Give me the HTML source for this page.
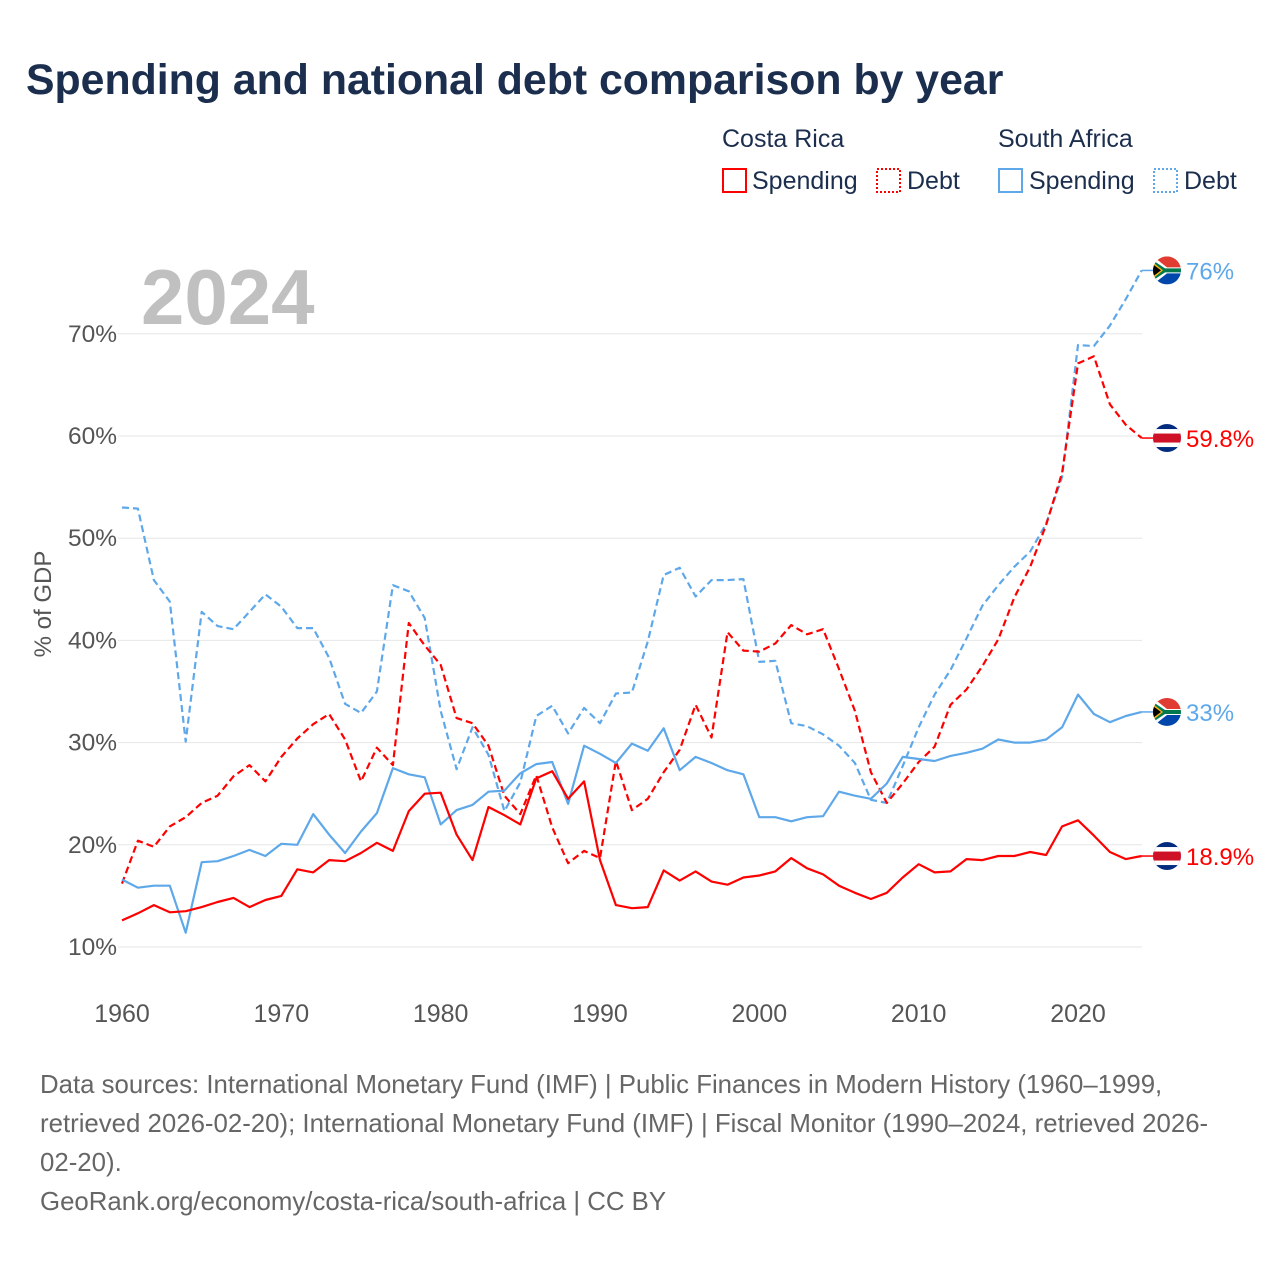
<!DOCTYPE html>
<html><head><meta charset="utf-8">
<style>
body{margin:0;background:#fff;font-family:"Liberation Sans",sans-serif;}
#wrap{position:relative;width:1280px;height:1280px;overflow:hidden;}
</style></head>
<body>
<div id="wrap">
<svg id="chart" width="1280" height="1280">
<defs>
<clipPath id="c1"><circle cx="0" cy="0" r="14"/></clipPath>
</defs>
<text x="26" y="94" font-size="42.8" font-weight="bold" fill="#1b2e4e">Spending and national debt comparison by year</text>
<g font-size="25" fill="#1b2e4e">
<text x="722" y="147">Costa Rica</text>
<text x="998" y="147">South Africa</text>
<g><rect x="723" y="169" width="23" height="23" fill="none" stroke="#ff0000" stroke-width="2"/><text x="752" y="189">Spending</text></g>
<g><rect x="877" y="169" width="23" height="23" fill="none" stroke="#ff0000" stroke-width="2" stroke-dasharray="2,2"/><text x="907" y="189">Debt</text></g>
<g><rect x="999" y="169" width="23" height="23" fill="none" stroke="#5ea8ea" stroke-width="2"/><text x="1029" y="189">Spending</text></g>
<g><rect x="1154" y="169" width="23" height="23" fill="none" stroke="#5ea8ea" stroke-width="2" stroke-dasharray="2,2"/><text x="1184" y="189">Debt</text></g>
</g>
<text x="141" y="324" font-size="78" font-weight="bold" fill="#c0c0c0">2024</text>
<g id="grid"></g>
<g id="yt" font-size="24.5" fill="#555"></g>
<g id="xt" font-size="25" fill="#555"></g>
<text transform="translate(51,604) rotate(-90)" text-anchor="middle" font-size="24" fill="#555">% of GDP</text>
<g id="series"></g>
<g id="ends"></g>
<g font-size="25.8" fill="#666">
<text x="40" y="1093">Data sources: International Monetary Fund (IMF) | Public Finances in Modern History (1960–1999,</text>
<text x="40" y="1132">retrieved 2026-02-20); International Monetary Fund (IMF) | Fiscal Monitor (1990–2024, retrieved 2026-</text>
<text x="40" y="1171">02-20).</text>
<text x="40" y="1210">GeoRank.org/economy/costa-rica/south-africa | CC BY</text>
</g>
</svg>
</div>
<script>
const startYear = 1960;
const xTicks = [1960,1970,1980,1990,2000,2010,2020];
const yTicks = [10,20,30,40,50,60,70];
const crSpending = [12.6,13.3,14.1,13.4,13.5,13.9,14.4,14.8,13.9,14.6,15.0,17.6,17.3,18.5,18.4,19.2,20.2,19.4,23.3,25.0,25.1,21.0,18.5,23.7,22.9,22.0,26.5,27.2,24.5,26.2,18.5,14.1,13.8,13.9,17.5,16.5,17.4,16.4,16.1,16.8,17.0,17.4,18.7,17.7,17.1,16.0,15.3,14.7,15.3,16.8,18.1,17.3,17.4,18.6,18.5,18.9,18.9,19.3,19.0,21.8,22.4,20.9,19.3,18.6,18.9];
const crDebt = [16.2,20.4,19.8,21.8,22.7,24.1,24.8,26.7,27.8,26.2,28.6,30.4,31.8,32.8,30.3,26.2,29.5,27.8,41.7,39.5,37.6,32.4,31.9,29.7,24.8,23.0,26.8,21.7,18.2,19.4,18.7,28.2,23.4,24.5,27.1,29.3,33.7,30.5,40.8,39.0,38.9,39.7,41.5,40.6,41.1,37.2,33.1,27.1,24.1,26.0,28.1,29.6,33.7,35.2,37.5,40.1,44.2,47.2,51.3,56.4,67.1,67.8,63.1,61.1,59.8];
const saSpending = [16.6,15.8,16.0,16.0,11.4,18.3,18.4,18.9,19.5,18.9,20.1,20.0,23.0,21.0,19.2,21.3,23.1,27.5,26.9,26.6,22.0,23.4,23.9,25.2,25.3,27.0,27.9,28.1,24.0,29.7,28.9,28.0,29.9,29.2,31.4,27.3,28.6,28.0,27.3,26.9,22.7,22.7,22.3,22.7,22.8,25.2,24.8,24.5,26.0,28.6,28.4,28.2,28.7,29.0,29.4,30.3,30.0,30.0,30.3,31.5,34.7,32.8,32.0,32.6,33.0];
const saDebt = [53.0,52.9,45.9,43.8,30.1,42.8,41.4,41.1,42.8,44.5,43.3,41.2,41.2,38.3,33.8,32.9,35.0,45.4,44.8,42.2,33.1,27.4,31.5,28.8,23.3,26.1,32.6,33.6,30.9,33.4,31.9,34.8,34.9,39.9,46.4,47.1,44.3,45.9,45.9,46.0,37.9,38.0,31.9,31.6,30.8,29.7,28.0,24.4,24.1,27.7,31.5,34.7,37.1,40.2,43.4,45.4,47.2,48.7,51.4,56.0,68.9,68.8,70.8,73.4,76.2];
const endLabels = ["76%","59.8%","33%","18.9%"];

const NS="http://www.w3.org/2000/svg";
function X(year){return 122+(year-1960)*(956/60);}
function Y(v){return 947-(v-10)*10.22;}
function mk(tag,attrs,parent){const e=document.createElementNS(NS,tag);for(const k in attrs)e.setAttribute(k,attrs[k]);parent.appendChild(e);return e;}
const grid=document.getElementById('grid'),yt=document.getElementById('yt'),xt=document.getElementById('xt');
yTicks.forEach(t=>{
  const l=mk('line',{x1:118,x2:1142,y1:Y(t),y2:Y(t),stroke:'#e6e6e6','stroke-width':1},grid);
  
  
  const tx=mk('text',{x:117,y:Y(t)+8,'text-anchor':'end'},yt);tx.textContent=t+'%';
  
  
});
xTicks.forEach(t=>{
  const tx=mk('text',{x:X(t),y:1022,'text-anchor':'middle'},xt);tx.textContent=t;
  
  
});
const ser=document.getElementById('series');
function line(data,color,dash,name){
  const pts=data.map((v,i)=>X(startYear+i).toFixed(1)+','+Y(v).toFixed(1)).join(' ');
  const p=mk('polyline',{points:pts,fill:'none',stroke:color,'stroke-width':2.2,'stroke-linejoin':'round'},ser);
  if(dash)p.setAttribute('stroke-dasharray','7,4');
  
  
}
line(saDebt,'#5ea8ea',true,'sa-debt-line');
line(crDebt,'#ff0000',true,'cr-debt-line');
line(saSpending,'#5ea8ea',false,'sa-spending-line');
line(crSpending,'#ff0000',false,'cr-spending-line');

const ends=document.getElementById('ends');
const last=saDebt.length-1, lx=X(startYear+last);
function flag(kind,y,label,color,name){
  const g=mk('g',{transform:'translate(1167,'+y+')'},ends);
  
  
  mk('line',{x1:lx-1167,x2:-14,y1:0,y2:0,stroke:color,'stroke-width':1.5},g);
  const f=mk('g',{'clip-path':'url(#c1)'},g);
  if(kind==='za'){
    mk('rect',{x:-14,y:-14,width:28,height:14,fill:'#e03c31'},f);
    mk('rect',{x:-14,y:0,width:28,height:14,fill:'#0047ab'},f);
    mk('polygon',{points:'-14,-14 0,-3 14,-3 14,3 0,3 -14,14',fill:'#fff'},f);
    mk('polygon',{points:'-14,-10 -2,-2 14,-2 14,2 -2,2 -14,10',fill:'#007a4d'},f);
    mk('polygon',{points:'-14,-8 -4,0 -14,8',fill:'#ffb612'},f);
    mk('polygon',{points:'-14,-6 -6,0 -14,6',fill:'#000'},f);
  } else {
    mk('rect',{x:-14,y:-14,width:28,height:28,fill:'#002b7f'},f);
    mk('rect',{x:-14,y:-9,width:28,height:18,fill:'#fff'},f);
    mk('rect',{x:-14,y:-4.5,width:28,height:9,fill:'#ce1126'},f);
  }
  const t=mk('text',{x:19,y:9,'font-size':24,fill:color},g);t.textContent=label;
}
flag('za',Y(saDebt[last]),endLabels[0],'#5ea8ea','end-label-sa-debt');
flag('cr',Y(crDebt[last]),endLabels[1],'#ff0000','end-label-cr-debt');
flag('za',Y(saSpending[last]),endLabels[2],'#5ea8ea','end-label-sa-spending');
flag('cr',Y(crSpending[last]),endLabels[3],'#ff0000','end-label-cr-spending');
</script>
</body></html>
